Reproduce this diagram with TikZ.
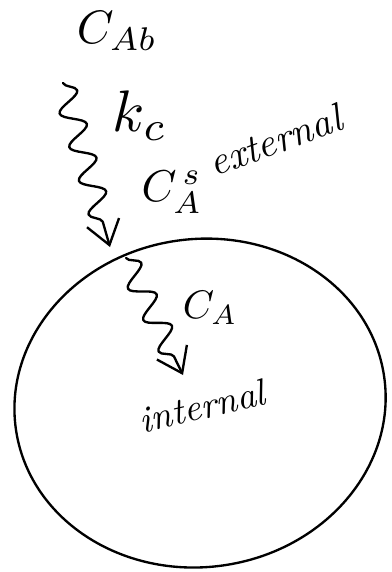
\documentclass[tikz,border=0pt]{standalone}
\usetikzlibrary{decorations.pathmorphing,arrows.meta}
\begin{document}
\begin{tikzpicture}[scale=0.3]
          \useasboundingbox (0,0) rectangle (39.1,-57.2);
          \tikzstyle{every node} = [inner sep = 0pt];
          \tikzstyle{wavy} = [line width=2pt, line cap=round, line join=round,
            decorate, decoration={snake, amplitude=0.35cm, segment length=1.05cm, post length=5mm},
            -{Straight Barb[length=7mm, width=10mm, line width=2pt]}];
          \node(cab) at (11.7,-3.1) {\scalebox{4}{$C_{Ab}$}};
          \node(kc) at (14.0,-11.6) {\scalebox{5}{$k_c$}};
          \node(cas) at (17.2,-19.2) {\scalebox{3.8}{$C_A^{\,s}$}};
          \node[rotate=20](ext) at (27.6,-14.0) {\scalebox{3.4}{\textit{external}}};
          \node(cain) at (21.0,-30.8) {\scalebox{3.4}{$C_A$}};
          \node[rotate=13](int) at (20.3,-40.6) {\scalebox{3.2}{\textit{internal}}};
          \coordinate(cell) at (20.0,-40.3);
          \coordinate(s1) at (6.3,-8.3);
          \coordinate(t1) at (11.0,-24.7);
          \coordinate(s2) at (12.6,-25.8);
          \coordinate(t2) at (18.3,-37.5);
          \tikzstyle{every node} = []
          \draw[line width=2pt, rotate around={8:(cell)}] (cell) ellipse [x radius=18.6, y radius=16.4];
          \draw[wavy] (s1) -- (t1);
          \draw[wavy] (s2) -- (t2);
          \end{tikzpicture}
\end{document}
